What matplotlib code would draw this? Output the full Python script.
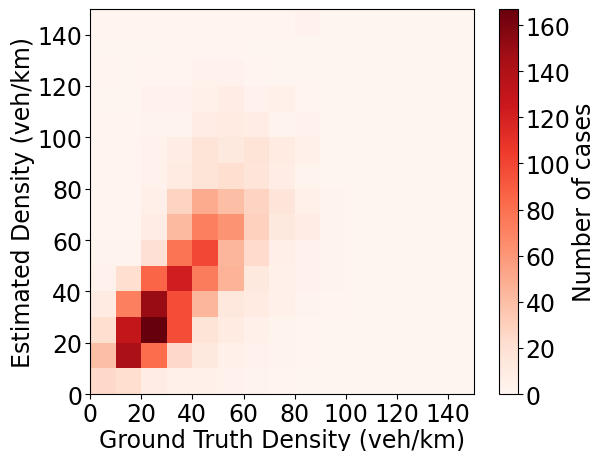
import numpy as np
import matplotlib.pyplot as plt

# bin edges (veh/km)
x_edges = np.arange(0, 160, 10)
y_edges = np.arange(0, 160, 10)

# counts per cell, rows = estimated density bins (bottom -> top),
# cols = ground truth density bins (left -> right)
counts = np.array([
    [25, 22,  8,  4,  4,  3,  2,  1,  0,  0, 0, 0, 0, 0, 0],   # 0-10
    [40, 143, 82, 25, 12,  5,  3,  2,  1,  0, 0, 0, 0, 0, 0],  # 10-20
    [22, 130, 167, 97, 18, 10,  4,  2,  1,  0, 0, 0, 0, 0, 0], # 20-30
    [10, 72, 150, 97, 45, 14, 10,  5,  2,  1, 0, 0, 0, 0, 0],  # 30-40
    [ 3, 22, 86, 122, 74, 46, 12,  4,  3,  2, 0, 0, 0, 0, 0],  # 40-50
    [ 2,  2, 20, 78, 99, 45, 24,  6,  3,  2, 0, 0, 0, 0, 0],   # 50-60
    [ 1,  1,  8, 42, 72, 62, 30, 12,  8,  2, 0, 0, 0, 0, 0],   # 60-70
    [ 1,  1,  6, 28, 50, 40, 28, 16,  5,  2, 0, 0, 0, 0, 0],   # 70-80
    [ 1,  1,  3, 10, 18, 22, 16,  8,  2,  0, 0, 0, 0, 0, 0],   # 80-90
    [ 1,  1,  3,  8, 18, 12, 18, 10,  4,  0, 0, 0, 0, 0, 0],   # 90-100
    [ 1,  1,  2,  2,  8, 10,  9,  2,  3,  0, 0, 0, 0, 0, 0],   # 100-110
    [ 0,  0,  3,  3,  5,  8,  3,  4,  1,  0, 0, 0, 0, 0, 0],   # 110-120
    [ 1,  0,  1,  1,  3,  3,  1,  0,  0,  0, 0, 0, 0, 0, 0],   # 120-130
    [ 0,  0,  0,  1,  1,  1,  0,  0,  0,  0, 0, 0, 0, 0, 0],   # 130-140
    [ 1,  1,  1,  1,  1,  1,  1,  1,  3,  0, 0, 0, 0, 0, 0],   # 140-150
])

ticks = np.arange(0, 150, 20)

plt.rcParams['font.size'] = 17

fig = plt.figure(figsize=(5.96, 4.52), dpi=100)
ax = fig.add_axes([0.151, 0.126, 0.644, 0.852])
cax = fig.add_axes([0.837, 0.126, 0.032, 0.852])

mesh = ax.pcolormesh(x_edges, y_edges, counts, cmap='Reds', vmin=0, vmax=167)
ax.set_xlim(0, 150)
ax.set_ylim(0, 150)
ax.set_xticks(ticks)
ax.set_yticks(ticks)
ax.tick_params(pad=2)
ax.set_xlabel('Ground Truth Density (veh/km)', labelpad=2)
ax.set_ylabel('Estimated Density (veh/km)', labelpad=2)

cb = fig.colorbar(mesh, cax=cax)
cb.set_ticks(np.arange(0, 170, 20))
cb.ax.tick_params(pad=2)
cb.set_label('Number of cases', labelpad=1)

fig.savefig('out.png', dpi=100)
